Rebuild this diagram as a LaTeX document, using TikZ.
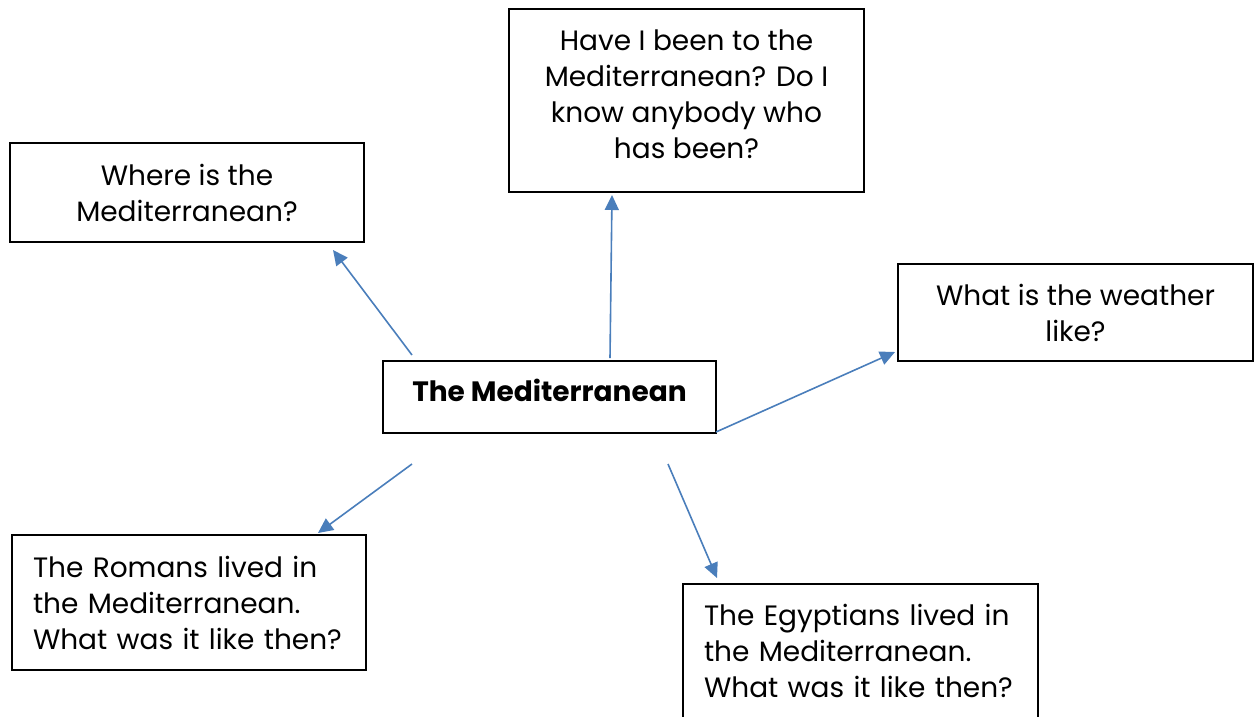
\documentclass[tikz,border=0pt]{standalone}
\usepackage{fontspec}
\setmainfont{Poppins}
\usetikzlibrary{arrows.meta}
\definecolor{arrowblue}{RGB}{74,126,187}

\begin{document}
\begin{tikzpicture}[x=1pt,y=-1pt]
\tikzset{every node/.style={font=\fontsize{28}{36}\selectfont},
  qbox/.style={draw=black,line width=1.8pt,inner sep=0pt,align=center},
  link/.style={arrowblue,line width=1.6pt,-{Triangle[length=15pt,width=14pt]}}}
\useasboundingbox (0,0) rectangle (1255,716);

% Boxes
\node[qbox,minimum width=333pt,minimum height=72pt,text depth=13pt] (mid) at (549.5,397) {\textbf{The Mediterranean}};
\node[qbox,minimum width=355pt,minimum height=183pt,text depth=13pt] (been) at (686.5,100.5) {Have I been to the\\Mediterranean? Do I\\know anybody who\\has been?};
\node[qbox,minimum width=354pt,minimum height=99pt] (where) at (187,192.5) {Where is the\\Mediterranean?};
\node[qbox,minimum width=355pt,minimum height=97pt] (weather) at (1075.5,312.5) {What is the weather\\like?};
\node[qbox,minimum width=354pt,minimum height=135pt,align=left,text width=312pt] (romans) at (189,602.5) {The Romans lived in\\the Mediterranean.\\What was it like then?};
\node[qbox,minimum width=355pt,minimum height=150pt,text depth=89pt,align=left,text width=313pt] (egypt) at (860.5,659) {The Egyptians lived in\\the Mediterranean.\\What was it like then?};

% Arrow ends
\coordinate (s1) at (412,355);
\coordinate (e1) at (333,250);
\coordinate (s2) at (610,358);
\coordinate (e2) at (612,195);
\coordinate (s3) at (716,432);
\coordinate (e3) at (895,352);
\coordinate (s4) at (412,464);
\coordinate (e4) at (318,533);
\coordinate (s5) at (668,464);
\coordinate (e5) at (717,578);

% Arrows
\draw[link] (s1) -- (e1);
\draw[link] (s2) -- (e2);
\draw[link] (s3) -- (e3);
\draw[link] (s4) -- (e4);
\draw[link] (s5) -- (e5);

\end{tikzpicture}
\end{document}
